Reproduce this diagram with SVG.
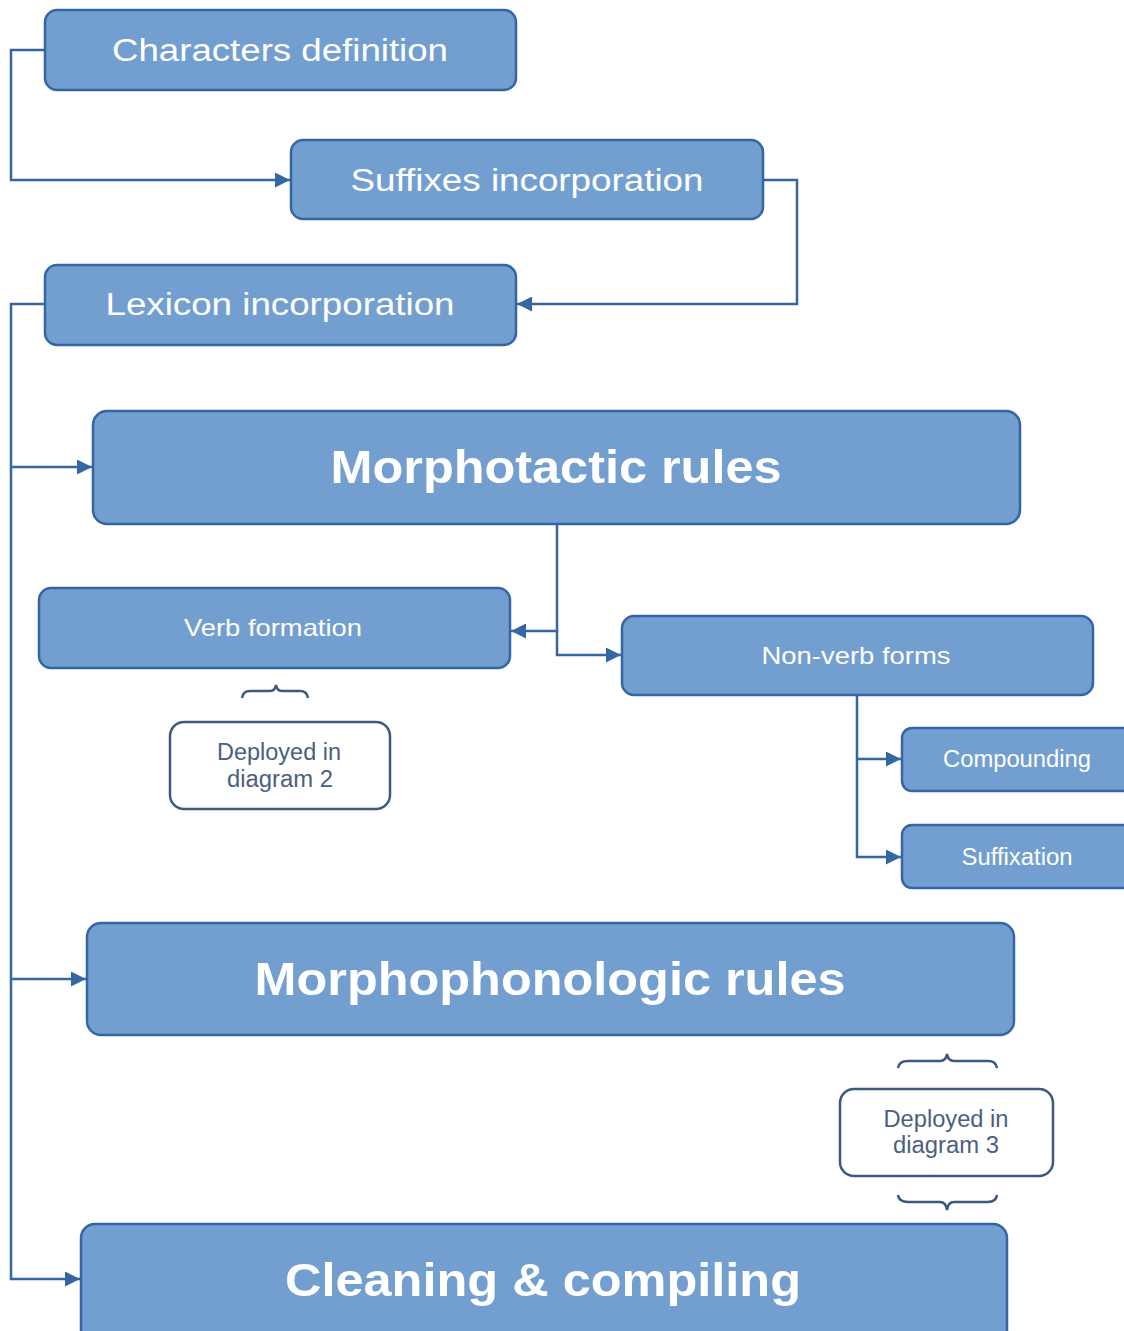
<svg xmlns="http://www.w3.org/2000/svg" width="1124" height="1331" viewBox="0 0 1124 1331">
<style>
.box{fill:#729fcf;stroke:#3465a4;stroke-width:2.5}
.note{fill:#ffffff;stroke:#3c5a7d;stroke-width:2.5}
.t{font-family:"Liberation Sans",Arial,sans-serif;fill:#ffffff;text-anchor:middle;dominant-baseline:central}
.b{font-weight:bold}
.nt{font-family:"Liberation Sans",Arial,sans-serif;fill:#4a6080;text-anchor:middle;font-size:23px}
.c{fill:none;stroke:#3465a4;stroke-width:2.5}
.br{fill:none;stroke:#3c5a7d;stroke-width:2.5}
</style>
<defs>
<marker id="ah" viewBox="0 0 10 10" refX="10" refY="5" markerWidth="7" markerHeight="6" markerUnits="strokeWidth" orient="auto">
<path d="M0,0 L10,5 L0,10 z" fill="#3465a4"/>
</marker>
</defs>
<rect width="1124" height="1331" fill="#ffffff"/>
<g id="connectors">
<path class="c" d="M45,50 H11 V180 H290" marker-end="url(#ah)"/>
<path class="c" d="M763,180 H797 V304 H517" marker-end="url(#ah)"/>
<path class="c" d="M45,304 H11 V1279 H80" marker-end="url(#ah)"/>
<path class="c" d="M11,467 H92" marker-end="url(#ah)"/>
<path class="c" d="M11,979 H86" marker-end="url(#ah)"/>
<path class="c" d="M557,524 V631 H511" marker-end="url(#ah)"/>
<path class="c" d="M557,631 V655 H621" marker-end="url(#ah)"/>
<path class="c" d="M857,695 V857 H901" marker-end="url(#ah)"/>
<path class="c" d="M857,759 H901" marker-end="url(#ah)"/>
</g>
<g id="n-characters">
<rect class="box" x="45" y="10" width="471" height="80" rx="12"/>
<text class="t" x="280" y="50" font-size="31" textLength="336" lengthAdjust="spacingAndGlyphs">Characters definition</text>
</g>
<g id="n-suffixes">
<rect class="box" x="291" y="140" width="472" height="79" rx="12"/>
<text class="t" x="527" y="180" font-size="31" textLength="353" lengthAdjust="spacingAndGlyphs">Suffixes incorporation</text>
</g>
<g id="n-lexicon">
<rect class="box" x="45" y="265" width="471" height="80" rx="12"/>
<text class="t" x="280" y="304" font-size="31" textLength="349" lengthAdjust="spacingAndGlyphs">Lexicon incorporation</text>
</g>
<g id="n-morphotactic">
<rect class="box" x="93" y="411" width="927" height="113" rx="14"/>
<text class="t b" x="556" y="467" font-size="46" textLength="451" lengthAdjust="spacingAndGlyphs">Morphotactic rules</text>
</g>
<g id="n-verb">
<rect class="box" x="39" y="588" width="471" height="80" rx="12"/>
<text class="t" x="273" y="627" font-size="24" textLength="178" lengthAdjust="spacingAndGlyphs">Verb formation</text>
</g>
<g id="n-nonverb">
<rect class="box" x="622" y="616" width="471" height="79" rx="12"/>
<text class="t" x="856" y="655" font-size="24" textLength="189" lengthAdjust="spacingAndGlyphs">Non-verb forms</text>
</g>
<g id="n-deployed2">
<path class="br" d="M242,698 Q243,691 250,691 H270 Q275,691 276,685 Q277,691 282,691 H300 Q307,691 308,698"/>
<rect class="note" x="170" y="722" width="220" height="87" rx="14"/>
<text class="nt" x="279" y="760" textLength="124" lengthAdjust="spacingAndGlyphs">Deployed in</text>
<text class="nt" x="280" y="787" textLength="106" lengthAdjust="spacingAndGlyphs">diagram 2</text>
</g>
<g id="n-compounding">
<rect class="box" x="902" y="728" width="240" height="63" rx="10"/>
<text class="t" x="1017" y="759" font-size="23" textLength="148" lengthAdjust="spacingAndGlyphs">Compounding</text>
</g>
<g id="n-suffixation">
<rect class="box" x="902" y="825" width="240" height="63" rx="10"/>
<text class="t" x="1017" y="857" font-size="23" textLength="111" lengthAdjust="spacingAndGlyphs">Suffixation</text>
</g>
<g id="n-morphophonologic">
<rect class="box" x="87" y="923" width="927" height="112" rx="14"/>
<text class="t b" x="550" y="979" font-size="46" textLength="591" lengthAdjust="spacingAndGlyphs">Morphophonologic rules</text>
</g>
<g id="n-deployed3">
<path class="br" d="M898,1068 Q899,1061 908,1061 H940 Q946,1061 947,1054 Q948,1061 954,1061 H988 Q996,1061 997,1068"/>
<rect class="note" x="840" y="1089" width="213" height="87" rx="14"/>
<text class="nt" x="946" y="1127" textLength="125" lengthAdjust="spacingAndGlyphs">Deployed in</text>
<text class="nt" x="946" y="1153" textLength="106" lengthAdjust="spacingAndGlyphs">diagram 3</text>
<path class="br" d="M898,1195 Q899,1202 908,1202 H940 Q946,1202 947,1210 Q948,1202 954,1202 H988 Q996,1202 997,1195"/>
</g>
<g id="n-cleaning">
<rect class="box" x="81" y="1224" width="926" height="120" rx="14"/>
<text class="t b" x="543" y="1280" font-size="46" textLength="516" lengthAdjust="spacingAndGlyphs">Cleaning &amp; compiling</text>
</g>
</svg>
